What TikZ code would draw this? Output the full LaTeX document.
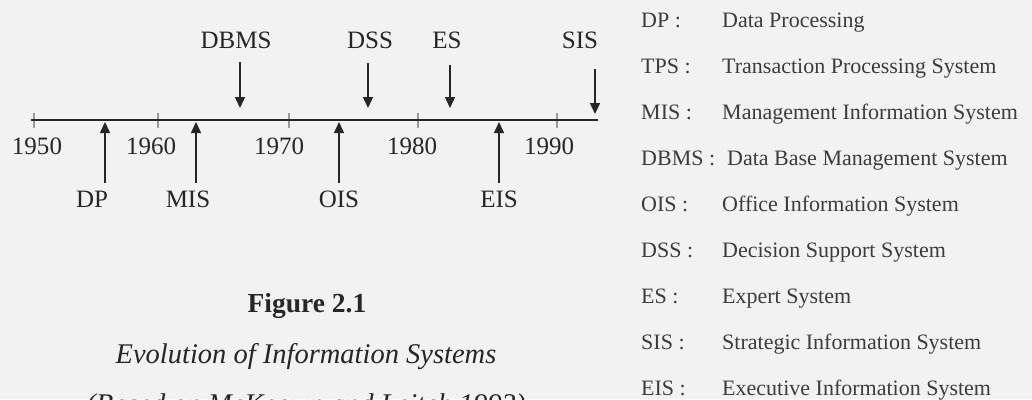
\documentclass[tikz,border=0pt]{standalone}
\usepackage{fontspec}
\setmainfont{Liberation Serif}
\usetikzlibrary{arrows.meta}

\definecolor{paper}{HTML}{F2F2F2}
\definecolor{ink}{HTML}{262626}
\definecolor{tickgray}{HTML}{9A9A9A}

\tikzset{
  axis/.style={line width=2pt, draw=ink},
  yeartick/.style={line width=1.6pt, draw=tickgray},
  pointer/.style={line width=1.5pt, draw=ink,
    -{Triangle[length=11pt,width=10pt]}, shorten >=0pt},
  lbl/.style={anchor=base, inner sep=0pt, text=ink,
    font=\fontsize{25}{30}\selectfont},
  year/.style={lbl},
  abbr/.style={anchor=base west, inner sep=0pt, text=ink!90,
    font=\fontsize{22}{26}\selectfont},
  caphead/.style={anchor=base, inner sep=0pt, text=ink,
    font=\fontsize{27.5}{32}\selectfont\bfseries},
  capline/.style={anchor=base, inner sep=0pt, text=ink,
    font=\fontsize{28.5}{34}\selectfont\itshape},
}

\begin{document}
\begin{tikzpicture}[x=1pt, y=-1pt]
  % canvas
  \fill[paper] (0,0) rectangle (1032,399);
  \clip (0,0) rectangle (1032,399);

  % time axis
  \coordinate (axL) at (31,120);
  \coordinate (axR) at (598,120);
  \foreach \x/\n in {34/a,158/b,289/c,418/d,557/e}
    \draw[yeartick] (\x,113) -- (\x,128);
  \draw[axis] (axL) -- (axR);

  % years
  \node[year] (y1950) at (37,154)  {1950};
  \node[year] (y1960) at (151,154) {1960};
  \node[year] (y1970) at (279,154) {1970};
  \node[year] (y1980) at (412,154) {1980};
  \node[year] (y1990) at (549,154) {1990};

  % systems introduced from below
  \node[lbl] (dp)  at (92,207)  {DP};
  \node[lbl] (mis) at (188,207) {MIS};
  \node[lbl] (ois) at (339,207) {OIS};
  \node[lbl] (eis) at (499,207) {EIS};
  \coordinate (dpS)  at (105,183); \coordinate (dpT)  at (105,122);
  \coordinate (misS) at (196,183); \coordinate (misT) at (196,122);
  \coordinate (oisS) at (339,183); \coordinate (oisT) at (339,122);
  \coordinate (eisS) at (499,183); \coordinate (eisT) at (499,122);
  \draw[pointer] (dpS) -- (dpT);
  \draw[pointer] (misS) -- (misT);
  \draw[pointer] (oisS) -- (oisT);
  \draw[pointer] (eisS) -- (eisT);

  % systems introduced from above
  \node[lbl] (dbms) at (236,48) {DBMS};
  \node[lbl] (dss)  at (370,48) {DSS};
  \node[lbl] (es)   at (447,48) {ES};
  \node[lbl] (sis)  at (580,48) {SIS};
  \coordinate (dbmsS) at (240,62); \coordinate (dbmsT) at (240,108);
  \coordinate (dssS)  at (368,63); \coordinate (dssT)  at (368,108);
  \coordinate (esS)   at (450,65); \coordinate (esT)   at (450,108);
  \coordinate (sisS)  at (595,69); \coordinate (sisT)  at (595,114);
  \draw[pointer] (dbmsS) -- (dbmsT);
  \draw[pointer] (dssS) -- (dssT);
  \draw[pointer] (esS) -- (esT);
  \draw[pointer] (sisS) -- (sisT);

  % caption
  \node[caphead] (fig) at (307,312) {Figure 2.1};
  \node[capline] (ttl) at (306,363) {Evolution of Information Systems};
  \node[capline] (src) at (306,413) {(Based on McKeown and Leitch 1993)};

  % legend
  \node[abbr] (k1) at (641,27)  {DP :};
  \node[abbr] (d1) at (722,27)  {Data Processing};
  \node[abbr] (k2) at (641,73)  {TPS :};
  \node[abbr] (d2) at (722,73)  {Transaction Processing System};
  \node[abbr] (k3) at (641,119) {MIS :};
  \node[abbr] (d3) at (722,119) {Management Information System};
  \node[abbr] (k4) at (641,165) {DBMS :};
  \node[abbr] (d4) at (727,165) {Data Base Management System};
  \node[abbr] (k5) at (641,211) {OIS :};
  \node[abbr] (d5) at (722,211) {Office Information System};
  \node[abbr] (k6) at (641,257) {DSS :};
  \node[abbr] (d6) at (722,257) {Decision Support System};
  \node[abbr] (k7) at (641,303) {ES :};
  \node[abbr] (d7) at (722,303) {Expert System};
  \node[abbr] (k8) at (641,349) {SIS :};
  \node[abbr] (d8) at (722,349) {Strategic Information System};
  \node[abbr] (k9) at (641,395) {EIS :};
  \node[abbr] (d9) at (722,395) {Executive Information System};
\end{tikzpicture}
\end{document}
